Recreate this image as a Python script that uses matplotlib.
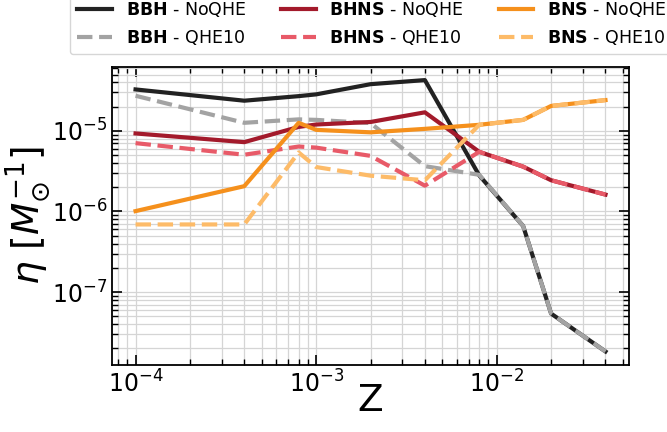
import numpy as np
import matplotlib
matplotlib.use("Agg")
import matplotlib.pyplot as plt

# metallicity grid
Z = [1e-4, 4e-4, 8e-4, 1e-3, 2e-3, 4e-3, 8e-3, 1.4e-2, 2e-2, 4e-2]

# merger efficiency eta [Msun^-1]
bbh_noqhe = [3.27e-5, 2.37e-5, 2.7e-5, 2.84e-5, 3.8e-5, 4.27e-5, 2.8e-6, 6.6e-7, 5.4e-8, 1.83e-8]
bbh_qhe10 = [2.73e-5, 1.26e-5, 1.39e-5, 1.37e-5, 1.25e-5, 3.65e-6, 2.85e-6, 6.6e-7, 5.4e-8, 1.83e-8]
bhns_noqhe = [9.3e-6, 7.25e-6, 1.12e-5, 1.2e-5, 1.29e-5, 1.70e-5, 5.5e-6, 3.6e-6, 2.44e-6, 1.62e-6]
bhns_qhe10 = [7.05e-6, 5.06e-6, 6.4e-6, 6.2e-6, 4.9e-6, 2.09e-6, 5.5e-6, 3.6e-6, 2.44e-6, 1.62e-6]
bns_noqhe = [1.01e-6, 2.06e-6, 1.26e-5, 1.03e-5, 9.6e-6, 1.06e-5, 1.19e-5, 1.37e-5, 2.04e-5, 2.41e-5]
bns_qhe10 = [6.9e-7, 6.9e-7, 5.4e-6, 3.56e-6, 2.78e-6, 2.44e-6, 1.19e-5, 1.37e-5, 2.04e-5, 2.41e-5]

series = [
    (r"$\bf{BBH}$ - NoQHE", bbh_noqhe, "#222222", "-"),
    (r"$\bf{BBH}$ - QHE10", bbh_qhe10, "#a3a3a3", "--"),
    (r"$\bf{BHNS}$ - NoQHE", bhns_noqhe, "#a31a2b", "-"),
    (r"$\bf{BHNS}$ - QHE10", bhns_qhe10, "#e85a68", "--"),
    (r"$\bf{BNS}$ - NoQHE", bns_noqhe, "#f5901c", "-"),
    (r"$\bf{BNS}$ - QHE10", bns_qhe10, "#fdbb68", "--"),
]

fig = plt.figure(figsize=(6.67, 4.32), dpi=100)
ax = fig.add_axes([0.168, 0.155, 0.775, 0.691])

for label, vals, color, ls in series:
    ax.plot(Z, vals, ls, color=color, lw=3, label=label)

ax.set_xscale("log")
ax.set_yscale("log")
ax.grid(True, which="both", color="#d5d5d5", lw=0.9)
ax.set_axisbelow(True)
ax.tick_params(which="both", direction="in", top=True, right=True, labelsize=17)
ax.tick_params(which="major", length=7, width=1.2)
ax.tick_params(which="minor", length=4, width=1)
for s in ax.spines.values():
    s.set_linewidth(1.3)

ax.set_xlabel("Z", fontsize=27, labelpad=-10)
ax.set_ylabel(r"$\eta\ [M_{\odot}^{-1}]$", fontsize=27, labelpad=-1)

fig.legend(loc="lower left", bbox_to_anchor=(70 / 667, 1 - 54 / 432), ncol=3,
           fontsize=12.5, frameon=True, borderaxespad=0)

fig.savefig("out.png", dpi=100)
